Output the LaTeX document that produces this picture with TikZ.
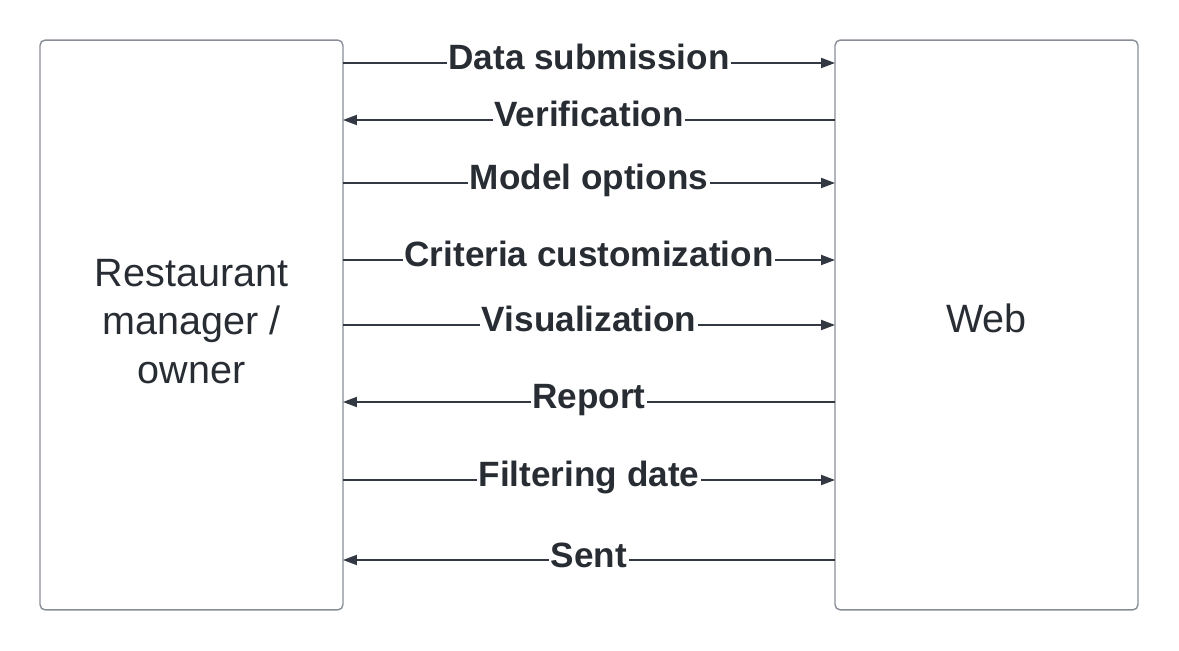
\documentclass[tikz,border=0pt]{standalone}
\usepackage{fontspec}
\setmainfont{Liberation Sans}
\usetikzlibrary{arrows.meta}

\definecolor{edgegray}{HTML}{888D96}
\definecolor{inkdark}{HTML}{333942}
\definecolor{txtdark}{HTML}{282C33}

\tikzset{
  actor/.style={draw=edgegray, line width=0.8pt, rounded corners=3pt, minimum width=6.06cm,
    minimum height=11.4cm, inner sep=0pt, outer sep=0pt, align=center, text=txtdark,
    font=\fontsize{22.5}{27.8}\selectfont},
  flow/.style={draw=inkdark, line width=1.1pt, -{Triangle[length=0.28cm,width=0.2cm]}},
  msg/.style={fill=white, inner sep=1pt, anchor=base, yshift=-0.14cm, text=txtdark,
    font=\fontsize{20}{24}\selectfont\bfseries}
}

\begin{document}
\begin{tikzpicture}[x=0.02cm, y=-0.02cm]

\useasboundingbox (0,0) rectangle (1179,651);

\node[actor, text depth=0.15cm] (manager) at (191.5,325) {Restaurant\\manager /\\owner};
\node[actor, text depth=0.28cm] (web) at (986.5,325) {Web};

\coordinate (m1) at (manager.east |- 0,63);
\coordinate (w1) at (web.west |- 0,63);
\coordinate (m2) at (manager.east |- 0,120);
\coordinate (w2) at (web.west |- 0,120);
\coordinate (m3) at (manager.east |- 0,183);
\coordinate (w3) at (web.west |- 0,183);
\coordinate (m4) at (manager.east |- 0,260);
\coordinate (w4) at (web.west |- 0,260);
\coordinate (m5) at (manager.east |- 0,325);
\coordinate (w5) at (web.west |- 0,325);
\coordinate (m6) at (manager.east |- 0,402);
\coordinate (w6) at (web.west |- 0,402);
\coordinate (m7) at (manager.east |- 0,480);
\coordinate (w7) at (web.west |- 0,480);
\coordinate (m8) at (manager.east |- 0,560);
\coordinate (w8) at (web.west |- 0,560);

\draw[flow] (m1) -- node[msg] {Data submission} (w1);
\draw[flow] (w2) -- node[msg] {Verification} (m2);
\draw[flow] (m3) -- node[msg] {Model options} (w3);
\draw[flow] (m4) -- node[msg] {Criteria customization} (w4);
\draw[flow] (m5) -- node[msg] {Visualization} (w5);
\draw[flow] (w6) -- node[msg] {Report} (m6);
\draw[flow] (m7) -- node[msg] {Filtering date} (w7);
\draw[flow] (w8) -- node[msg] {Sent} (m8);

\end{tikzpicture}
\end{document}
